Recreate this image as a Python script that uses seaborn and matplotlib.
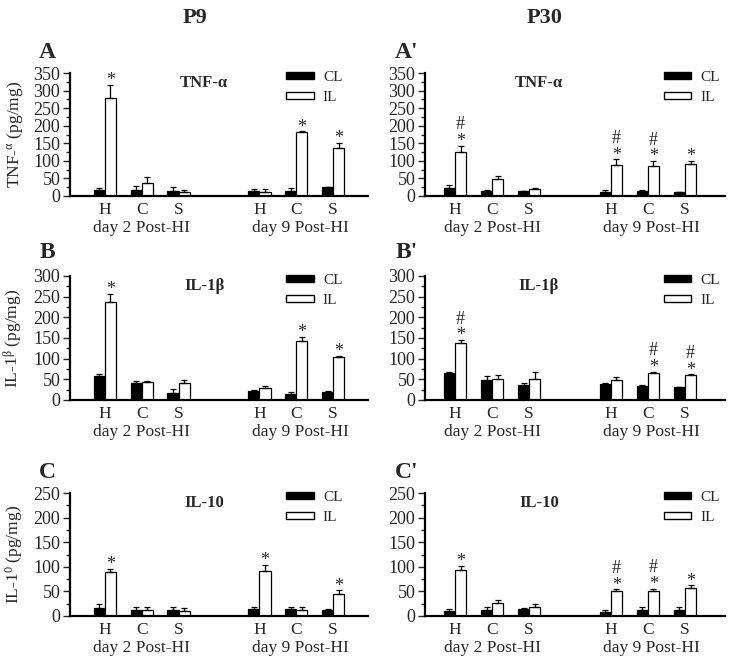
import numpy as np
import pandas as pd
import seaborn as sns
import matplotlib.pyplot as plt
from matplotlib.patches import Patch
from matplotlib.ticker import MultipleLocator

sns.set_theme(style="ticks")
plt.rcParams["font.family"] = ["Liberation Serif", "DejaVu Serif"]
plt.rcParams["mathtext.fontset"] = "custom"
plt.rcParams["mathtext.rm"] = "Liberation Serif"
plt.rcParams["mathtext.it"] = "Liberation Serif:italic"
plt.rcParams["mathtext.bf"] = "Liberation Serif:bold"

# x positions of the 6 groups (two time points, 3 regions each)
positions = [0, 1, 2, 4.2, 5.2, 6.2]
regions = ["H", "C", "S", "H", "C", "S"]
days = ["day 2 Post-HI", "day 9 Post-HI"]
sides = ["CL", "IL"]

# TNF-a
tnf_p9_cl = [16, 17, 15, 13, 15, 26]
tnf_p9_cl_err = [8, 12, 10, 7, 7, 1]
tnf_p9_il = [278, 36, 10, 12, 183, 137]
tnf_p9_il_err = [39, 17, 6, 7, 1, 13]
tnf_p30_cl = [24, 15, 14, 11, 15, 10]
tnf_p30_cl_err = [6, 2, 1, 7, 2, 2]
tnf_p30_il = [124, 49, 21, 87, 84, 91]
tnf_p30_il_err = [19, 9, 2, 17, 15, 10]

# IL-1b
il1b_p9_cl = [58, 42, 17, 22, 14, 20]
il1b_p9_cl_err = [6, 4, 9, 2, 5, 1]
il1b_p9_il = [237, 43, 41, 30, 142, 104]
il1b_p9_il_err = [19, 2, 7, 5, 10, 2]
il1b_p30_cl = [65, 48, 36, 39, 35, 31]
il1b_p30_cl_err = [2, 9, 6, 3, 1, 1]
il1b_p30_il = [139, 52, 52, 49, 66, 61]
il1b_p30_il_err = [6, 8, 16, 7, 2, 1]

# IL-10
il10_p9_cl = [17, 12, 12, 14, 14, 13]
il10_p9_cl_err = [7, 6, 6, 4, 4, 2]
il10_p9_il = [90, 12, 10, 92, 13, 45]
il10_p9_il_err = [5, 7, 6, 11, 5, 7]
il10_p30_cl = [11, 12, 14, 9, 13, 12]
il10_p30_cl_err = [4, 6, 3, 4, 6, 6]
il10_p30_il = [93, 26, 18, 50, 50, 57]
il10_p30_il_err = [8, 7, 6, 4, 5, 5]

# significance marks on IL bars (group index)
star_a, hash_a = [0, 4, 5], []
star_a2, hash_a2 = [0, 3, 4, 5], [0, 3, 4]
star_b, hash_b = [0, 4, 5], []
star_b2, hash_b2 = [0, 4, 5], [0, 4, 5]
star_c, hash_c = [0, 3, 5], []
star_c2, hash_c2 = [0, 3, 4, 5], [3, 4]

panels = [
    # letter, title, ylabel, ymax, cl, cl_err, il, il_err, stars, hashes, column
    ("A", "TNF-α", "TNF-$^{\\mathrm{α}}$ (pg/mg)", 350, tnf_p9_cl, tnf_p9_cl_err, tnf_p9_il, tnf_p9_il_err,
     star_a, hash_a, 0),
    ("A'", "TNF-α", None, 350, tnf_p30_cl, tnf_p30_cl_err, tnf_p30_il, tnf_p30_il_err,
     star_a2, hash_a2, 1),
    ("B", "IL-1β", "IL-1$^{\\mathrm{β}}$ (pg/mg)", 300, il1b_p9_cl, il1b_p9_cl_err, il1b_p9_il, il1b_p9_il_err,
     star_b, hash_b, 0),
    ("B'", "IL-1β", None, 300, il1b_p30_cl, il1b_p30_cl_err, il1b_p30_il, il1b_p30_il_err,
     star_b2, hash_b2, 1),
    ("C", "IL-10", "IL-1$^{\\mathrm{0}}$ (pg/mg)", 250, il10_p9_cl, il10_p9_cl_err, il10_p9_il, il10_p9_il_err,
     star_c, hash_c, 0),
    ("C'", "IL-10", None, 250, il10_p30_cl, il10_p30_cl_err, il10_p30_il, il10_p30_il_err,
     star_c2, hash_c2, 1),
]

W, H = 729, 665
fig = plt.figure(figsize=(W / 100, H / 100), dpi=100)

col_left = [70, 425]
col_width = [298, 300]
col_xlim = [(-0.95, 7.15), (-0.81, 7.28)]
row_axis_y = [196, 400, 616]   # pixel row of y=0
row_height = [123, 124, 123]

for i, (letter, title, ylabel, ymax, cl, cl_err, il, il_err, stars, hashes, col) in enumerate(panels):
    row = i // 2
    rect = [col_left[col] / W, (H - row_axis_y[row]) / H, col_width[col] / W, row_height[row] / H]
    ax = fig.add_axes(rect)

    df = pd.DataFrame({
        "pos": positions * 2,
        "side": ["CL"] * 6 + ["IL"] * 6,
        "value": cl + il,
    })
    sns.barplot(data=df, x="pos", y="value", hue="side", hue_order=sides, native_scale=True,
                palette={"CL": "black", "IL": "white"}, edgecolor="black", linewidth=0.9,
                errorbar=None, width=0.6, legend=False, ax=ax)

    pos = np.array(positions)
    for offs, vals, errs in [(-0.15, cl, cl_err), (0.15, il, il_err)]:
        ax.errorbar(pos + offs, vals, yerr=[np.zeros(6), errs], fmt="none", ecolor="black",
                    elinewidth=0.9, capsize=2.5, capthick=0.9)

    for k in stars:
        ax.annotate("*", xy=(pos[k] + 0.15, il[k] + il_err[k]), xytext=(0, -3), textcoords="offset points",
                    ha="center", va="bottom", fontsize=13)
    for k in hashes:
        ax.annotate("#", xy=(pos[k] + 0.15, il[k] + il_err[k]), xytext=(0, 9), textcoords="offset points",
                    ha="center", va="bottom", fontsize=13)

    ax.set_xlim(*col_xlim[col])
    ax.set_ylim(0, ymax)
    ax.set_xticks(positions, regions)
    ax.yaxis.set_major_locator(MultipleLocator(50))
    ax.yaxis.set_minor_locator(MultipleLocator(25))
    ax.tick_params(axis="x", length=0, labelsize=12.5, pad=4)
    ax.tick_params(axis="y", which="major", direction="out", length=5, width=1, labelsize=13, pad=2)
    ax.tick_params(axis="y", which="minor", direction="out", length=3, width=1)
    ax.set_xlabel("")
    ax.set_ylabel("")
    sns.despine(ax=ax)
    for s in ["left", "bottom"]:
        ax.spines[s].set_linewidth(1.6)
        ax.spines[s].set_color("black")

    for j, d in enumerate(days):
        ax.annotate(d, xy=(positions[1 + 3 * j] + (0.1 if j else 0), 0), xycoords=("data", "axes fraction"),
                    xytext=(0, -23), textcoords="offset points", ha="center", va="center", fontsize=12.5)

    if ylabel:
        ax.set_ylabel(ylabel, fontsize=12.5)
        ax.yaxis.set_label_coords(-0.15, 0.5)

    ax.text(0.45 if col == 0 else 0.38, 0.92, title, transform=ax.transAxes, ha="center", va="center",
            fontsize=12, fontweight="bold")

    handles = [Patch(facecolor="black", edgecolor="black", label="CL"),
               Patch(facecolor="white", edgecolor="black", label="IL")]
    ax.legend(handles=handles, loc="upper left", bbox_to_anchor=(0.70 if col == 0 else 0.77, 1.08),
              frameon=False, handlelength=1.8, handleheight=0.35, handletextpad=0.6,
              labelspacing=0.45, fontsize=11, borderpad=0)

    lx = 47 if col == 0 else 407
    ly = [53, 253, 472][row]
    fig.text(lx / W, 1 - ly / H, letter, ha="center", va="center", fontsize=17, fontweight="bold")

fig.text(195 / W, 1 - 18 / H, "P9", ha="center", va="center", fontsize=16, fontweight="bold")
fig.text(545 / W, 1 - 18 / H, "P30", ha="center", va="center", fontsize=16, fontweight="bold")

fig.savefig("out.png", dpi=100)
